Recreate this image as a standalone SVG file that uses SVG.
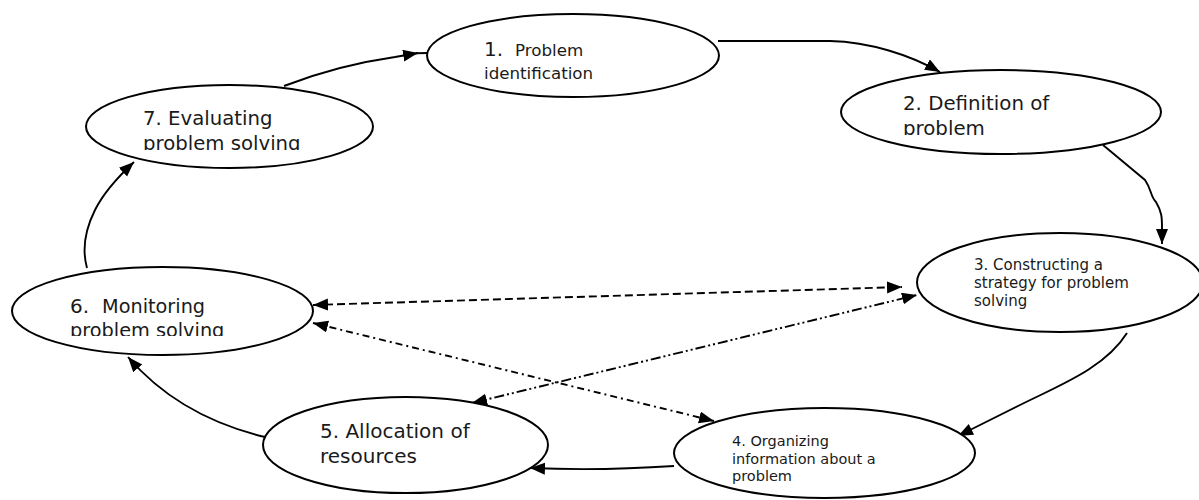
<svg xmlns="http://www.w3.org/2000/svg" width="1199" height="500" viewBox="0 0 1199 500">
<style>
.node ellipse{fill:#fff;stroke:#000;stroke-width:2}
text{font-family:"DejaVu Sans",Verdana,sans-serif;fill:#1a1a1a}
.c{fill:none;stroke:#000;stroke-width:1.9}
.d1{stroke-dasharray:8 4}
.d2{stroke-dasharray:7 4 2 4}
.d3{stroke-dasharray:10 3 2 3 2 3}
</style>
<defs>
<marker id="ah" markerUnits="userSpaceOnUse" markerWidth="16" markerHeight="13" refX="15" refY="6" orient="auto-start-reverse" viewBox="0 0 16 13">
<path d="M0,0 L15,6 L0,12 z" fill="#000"/>
</marker>
<clipPath id="clip2"><rect x="840" y="60" width="330" height="75"/></clipPath>
<clipPath id="clip7"><rect x="80" y="80" width="300" height="70"/></clipPath>
<clipPath id="clip6"><rect x="10" y="260" width="310" height="76"/></clipPath>
</defs>
<g id="connectors">
<path class="c" d="M284,86 C320,72 360,62 395,57 L418,53" marker-end="url(#ah)"/>
<path class="c" d="M416,53.3 L428,53"/>
<path class="c" d="M718,41 L830,41 C870,42 910,55 940,72" marker-end="url(#ah)"/>
<path class="c" d="M1103,145 L1145,180 C1152,190 1150,196 1156,202 C1162,212 1162,218 1162,228 L1162,244" marker-end="url(#ah)"/>
<path class="c" d="M1127,333 C1105,368 1060,385 1020,405 L958,436" marker-end="url(#ah)"/>
<path class="c" d="M674,466 Q600,471 530,468" marker-end="url(#ah)"/>
<path class="c" d="M265,437 C215,425 165,400 128,357" marker-end="url(#ah)"/>
<path class="c" d="M87,268 C82,250 85,230 95,210 C105,190 120,175 134,162" marker-end="url(#ah)"/>
<path class="c d1" d="M313,305 L902,287" marker-start="url(#ah)" marker-end="url(#ah)"/>
<path class="c d2" d="M313,323 L714,421" marker-start="url(#ah)" marker-end="url(#ah)"/>
<path class="c d3" d="M472,403 L917,295" marker-start="url(#ah)" marker-end="url(#ah)"/>
</g>
<g id="node1" class="node">
<ellipse cx="573" cy="55.5" rx="146" ry="41.5"/>
<text x="484" y="56" font-size="20">1.</text>
<text x="515" y="56" font-size="16.7">Problem</text>
<text x="484" y="79" font-size="16.7">identification</text>
</g>
<g id="node2" class="node">
<ellipse cx="1001" cy="112" rx="160" ry="42"/>
<g clip-path="url(#clip2)">
<text x="903" y="110" font-size="19.8">2. Definition of</text>
<text x="903" y="135" font-size="19.8">problem</text>
</g>
</g>
<g id="node3" class="node">
<ellipse cx="1060" cy="282.5" rx="143" ry="49.5"/>
<text x="974" y="270" font-size="15">3. Constructing a</text>
<text x="974" y="288" font-size="15">strategy for problem</text>
<text x="974" y="306" font-size="15">solving</text>
</g>
<g id="node4" class="node">
<ellipse cx="824.5" cy="453" rx="150.5" ry="45"/>
<text x="732" y="446" font-size="14.5">4. Organizing</text>
<text x="732" y="463.5" font-size="14.5">information about a</text>
<text x="732" y="481" font-size="14.5">problem</text>
</g>
<g id="node5" class="node">
<ellipse cx="405.5" cy="445" rx="142.5" ry="48"/>
<text x="320" y="438" font-size="20">5. Allocation of</text>
<text x="320" y="463" font-size="20">resources</text>
</g>
<g id="node6" class="node">
<ellipse cx="162.5" cy="311" rx="150.5" ry="44"/>
<g clip-path="url(#clip6)">
<text x="70" y="313" font-size="20">6.</text>
<text x="102" y="313" font-size="19.3">Monitoring</text>
<text x="70" y="337" font-size="19.3">problem solving</text>
</g>
</g>
<g id="node7" class="node">
<ellipse cx="229.5" cy="126.5" rx="143.5" ry="41.5"/>
<g clip-path="url(#clip7)">
<text x="143" y="125" font-size="19.7">7. Evaluating</text>
<text x="143" y="150" font-size="19.7">problem solving</text>
</g>
</g>
</svg>
